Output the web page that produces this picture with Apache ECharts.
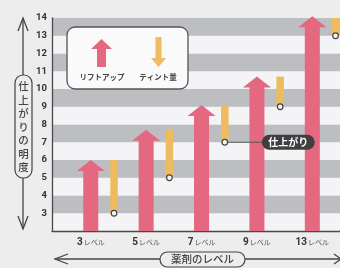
<!DOCTYPE html>
<html>
<head>
<meta charset="utf-8">
<script src="https://cdn.jsdelivr.net/npm/echarts@6/dist/echarts.min.js"></script>
<style>
  html, body { margin: 0; padding: 0; background: #ededee; }
  #chart { width: 340px; height: 268px; }
</style>
</head>
<body>
<div id="chart"></div>
<script>
// 薬剤のレベル
var levels = ['3', '5', '7', '9', '13'];
// リフトアップ後の明度（矢印の先）
var liftUp = [6, 7.7, 9.1, 10.7, 14.1];
// 仕上がりの明度（ティント後）
var finish = [3, 5, 7, 9, 13];
// 縦軸の目盛
var yTicks = [3, 4, 5, 6, 7, 8, 9, 10, 11, 12, 13, 14];

var PINK = '#e4687f';
var YELLOW = '#eebb5f';
var DARK = '#3f3f3f';
var FONT = '"Noto Sans CJK JP", "Noto Sans", sans-serif';
var TINT_OFFSET = 0.42;

var liftData = levels.map(function (v, i) { return [i, liftUp[i]]; });
var tintData = levels.map(function (v, i) { return [i + TINT_OFFSET, Math.min(liftUp[i], 14), finish[i]]; });

var myChart = echarts.init(document.getElementById('chart'));

// ピンクの上向き矢印
function renderArrow(params, api) {
    var tip = api.coord([api.value(0), api.value(1)]);
    var base = api.coord([api.value(0), 2]);
    var x = tip[0], shaft = 7.5, head = 14, headH = 11;
    return {
        type: 'polygon',
        shape: {
            points: [
                [x - shaft, base[1]], [x - shaft, tip[1] + headH], [x - head, tip[1] + headH],
                [x, tip[1]], [x + head, tip[1] + headH], [x + shaft, tip[1] + headH], [x + shaft, base[1]]
            ]
        },
        style: { fill: PINK }
    };
}

// 黄色のティント量と仕上がりの丸
function renderTint(params, api) {
    var top = api.coord([api.value(0), api.value(1)]);
    var bottom = api.coord([api.value(0), api.value(2)]);
    var w = 7.5;
    return {
        type: 'group',
        children: [{
            type: 'rect',
            shape: { x: top[0] - w / 2, y: top[1], width: w, height: bottom[1] - top[1] },
            style: { fill: YELLOW }
        }, {
            type: 'circle',
            shape: { cx: bottom[0], cy: bottom[1], r: 2.8 },
            style: { fill: '#f6f6f6', stroke: '#444', lineWidth: 1.2 }
        }]
    };
}

var option = {
    backgroundColor: '#ededee',
    animation: false,
    grid: { left: 52, right: 0, top: 18, bottom: 37, outerBoundsMode: 'none' },
    xAxis: {
        type: 'value',
        min: -0.7,
        max: 4.5,
        splitLine: { show: false },
        axisTick: { show: false },
        axisLine: { show: true, onZero: false, lineStyle: { color: '#4a4a4a', width: 1.3 } },
        axisLabel: {
            customValues: [0, 1, 2, 3, 4],
            margin: 6,
            formatter: function (v) { return '{n|' + levels[v] + '}{u|レベル}'; },
            rich: {
                n: { fontFamily: 'Roboto', fontWeight: 'bold', fontSize: 10, color: '#333' },
                u: { fontFamily: FONT, fontSize: 7, color: '#555', padding: [1, 0, 0, 1] }
            }
        }
    },
    yAxis: {
        type: 'value',
        min: 2,
        max: 14,
        interval: 1,
        axisTick: { show: false },
        splitLine: { show: false },
        splitArea: { show: true, areaStyle: { color: ['#f4f4f6', '#bdbec2'] } },
        axisLine: { show: true, onZero: false, lineStyle: { color: '#4a4a4a', width: 1.3 } },
        axisLabel: {
            customValues: yTicks,
            margin: 5,
            fontFamily: 'Roboto',
            fontWeight: 'bold',
            fontSize: 9.5,
            color: '#333'
        }
    },
    series: [{
        name: 'リフトアップ',
        type: 'custom',
        renderItem: renderArrow,
        data: liftData,
        clip: false,
        z: 3
    }, {
        name: 'ティント量',
        type: 'custom',
        renderItem: renderTint,
        data: tintData,
        clip: false,
        z: 4
    }]
};
myChart.setOption(option);

// 「仕上がり」吹き出しの位置（7レベルの丸）
var pt = myChart.convertToPixel({ gridIndex: 0 }, [2 + TINT_OFFSET, finish[2]]);

var lineStyle = { stroke: '#444', lineWidth: 1.3, fill: null };

myChart.setOption({
    graphic: [
        // 凡例
        {
            type: 'group', x: 67, y: 27, z: 10,
            children: [
                { type: 'rect', shape: { x: 0, y: 0, width: 121, height: 62, r: 8 },
                  style: { fill: '#fafafa', stroke: '#555', lineWidth: 1.3 } },
                { type: 'polygon', shape: { points: [[30, 40], [30, 22], [24, 22], [34.5, 12], [45, 22], [39, 22], [39, 40]] },
                  style: { fill: PINK } },
                { type: 'polygon', shape: { points: [[88.5, 10], [88.5, 31], [84, 31], [91.5, 40], [99, 31], [94.5, 31], [94.5, 10]] },
                  style: { fill: YELLOW } },
                { type: 'text', style: { x: 35, y: 50, text: 'リフトアップ', align: 'center', verticalAlign: 'middle',
                  font: 'bold 7.5px ' + FONT, fill: '#444' } },
                { type: 'text', style: { x: 91, y: 50, text: 'ティント量', align: 'center', verticalAlign: 'middle',
                  font: 'bold 7.5px ' + FONT, fill: '#444' } }
            ]
        },
        // 縦軸タイトル
        { type: 'line', z: 10, shape: { x1: 23, y1: 18, x2: 23, y2: 229 }, style: lineStyle },
        { type: 'polyline', z: 10, shape: { points: [[18, 31], [23, 18], [28, 31]] }, style: lineStyle },
        { type: 'polyline', z: 10, shape: { points: [[18, 216], [23, 229], [28, 216]] }, style: lineStyle },
        { type: 'rect', z: 10, shape: { x: 15, y: 75, width: 17, height: 103, r: 8 },
          style: { fill: '#ededee', stroke: '#444', lineWidth: 1.2 } },
        { type: 'text', z: 11, style: { x: 23.5, y: 127, text: '仕\n上\nが\nり\nの\n明\n度', align: 'center', verticalAlign: 'middle',
          font: '500 10.5px ' + FONT, lineHeight: 13.5, fill: '#444' } },
        // 横軸タイトル
        { type: 'line', z: 10, shape: { x1: 55, y1: 259, x2: 340, y2: 259 }, style: lineStyle },
        { type: 'polyline', z: 10, shape: { points: [[68, 254], [55, 259], [68, 264]] }, style: lineStyle },
        { type: 'polyline', z: 10, shape: { points: [[334, 254], [341, 259], [334, 264]] }, style: lineStyle },
        { type: 'rect', z: 10, shape: { x: 160, y: 252, width: 85, height: 15, r: 7.5 },
          style: { fill: '#ededee', stroke: '#444', lineWidth: 1.2 } },
        { type: 'text', z: 11, style: { x: 202.5, y: 259.5, text: '薬剤のレベル', align: 'center', verticalAlign: 'middle',
          font: '500 10.5px ' + FONT, fill: '#444' } },
        // 仕上がり吹き出し
        { type: 'line', z: 9, shape: { x1: pt[0] + 3, y1: pt[1], x2: pt[0] + 40, y2: pt[1] }, style: { stroke: '#555', lineWidth: 1 } },
        { type: 'rect', z: 9, shape: { x: pt[0] + 37, y: pt[1] - 7.5, width: 53, height: 15, r: 7.5 }, style: { fill: DARK } },
        { type: 'text', z: 10, style: { x: pt[0] + 63.5, y: pt[1], text: '仕上がり', align: 'center', verticalAlign: 'middle',
          font: 'bold 10px ' + FONT, fill: '#fff' } }
    ]
});
</script>
</body>
</html>
